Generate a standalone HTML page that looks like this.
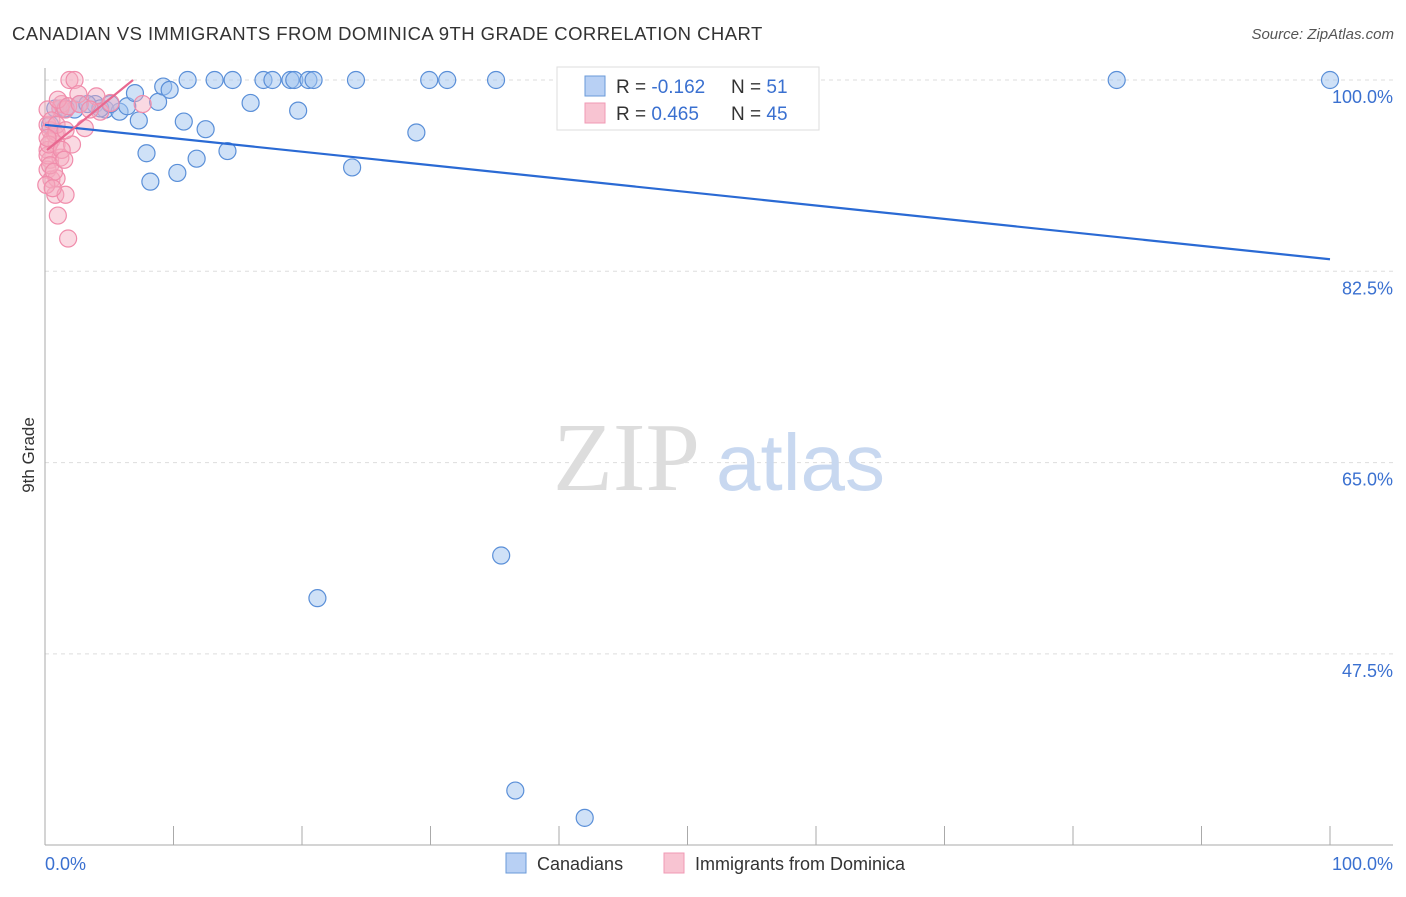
<!DOCTYPE html>
<html><head><meta charset="utf-8"><style>
body{margin:0;background:#fff;font-family:"Liberation Sans",sans-serif;}
</style></head><body>
<svg width="1406" height="892" viewBox="0 0 1406 892">
<text x="12" y="40" font-size="18.5" fill="#333" letter-spacing="0.45">CANADIAN VS IMMIGRANTS FROM DOMINICA 9TH GRADE CORRELATION CHART</text>
<text x="1394" y="39" font-size="15" fill="#555" font-style="italic" text-anchor="end">Source: ZipAtlas.com</text>
<g id="grid"></g>
<g id="axes"></g>
<text x="553" y="490" font-size="98" fill="#ddd" font-family="Liberation Serif">ZIP</text>
<text x="716" y="490" font-size="80" fill="#c8d8f0">atlas</text>
<text transform="translate(34,455) rotate(-90)" font-size="17" fill="#333" text-anchor="middle">9th Grade</text>
<g id="pts"></g>
<g id="lines"></g>
<g>
<rect x="557" y="67" width="262" height="63" fill="#fff" stroke="#ddd"/>
<rect x="585" y="76" width="20" height="20" fill="#b8d0f4" stroke="#6a9ad8"/>
<rect x="585" y="103" width="20" height="20" fill="#f8c4d2" stroke="#f09ab4"/>
<text x="616" y="93" font-size="19" fill="#333">R = <tspan fill="#3a70d0">-0.162</tspan></text>
<text x="731" y="93" font-size="19" fill="#333">N = <tspan fill="#3a70d0">51</tspan></text>
<text x="616" y="120" font-size="19" fill="#333">R = <tspan fill="#3a70d0"> 0.465</tspan></text>
<text x="731" y="120" font-size="19" fill="#333">N = <tspan fill="#3a70d0">45</tspan></text>
</g>
<g>
<rect x="506" y="853" width="20" height="20" fill="#b8d0f4" stroke="#6a9ad8"/>
<text x="537" y="870" font-size="18" fill="#333">Canadians</text>
<rect x="664" y="853" width="20" height="20" fill="#f8c4d2" stroke="#f09ab4"/>
<text x="695" y="870" font-size="18" fill="#333">Immigrants from Dominica</text>
</g>
</svg>
<script>
const yTicks=[100,82.5,65,47.5];
const yTickLabels=["100.0%","82.5%","65.0%","47.5%"];
const blueX=[0.8,2.3,2.7,3.9,4.7,5.8,6.4,7.0,7.3,7.9,8.2,8.8,9.2,9.7,10.3,10.8,11.1,11.8,12.5,13.2,14.2,14.6,16.0,17.0,17.7,19.1,19.4,19.7,20.5,20.9,21.2,23.9,24.2,28.9,29.9,31.3,35.1,35.5,36.6,40.9,42.0,47.7,56.4,83.4,100,1.2,1.6,4.3,5.1,0.4,3.3];
const blueY=[97.4,97.3,97.8,97.8,97.3,97.1,97.6,98.8,96.3,93.3,90.7,98.0,99.4,99.1,91.5,96.2,100,92.8,95.5,100,93.5,100,97.9,100,100,100,100,97.2,100,100,52.6,92.0,100,95.2,100,100,100,56.5,35.0,100,32.5,100,100,100,100,97.4,97.4,97.4,97.8,95.9,97.8];
const pinkX=[0.2,0.4,0.5,0.2,0.4,0.2,0.5,0.8,1.0,1.8,1.6,0.9,1.2,0.9,0.8,1.9,2.3,2.1,3.1,1.2,1.3,1.6,2.6,4.0,4.3,5.1,7.6,0.2,0.5,0.9,0.2,0.3,1.3,0.4,0.7,1.0,1.8,2.7,3.5,0.1,0.6,1.5,0.9,0.2,1.6];
const pinkY=[95.9,95.4,94.5,93.6,92.7,91.8,90.9,89.5,87.6,85.5,89.5,91.0,92.9,94.1,95.0,100,100,94.1,95.6,97.4,97.8,97.3,98.7,98.5,97.1,97.9,97.8,97.3,96.3,95.2,93.1,94.1,93.6,92.2,91.6,98.2,97.6,97.8,97.3,90.4,90.1,92.7,95.9,94.7,95.4];
const blueTrend=[[0,95.9],[100,83.6]];
const pinkTrend=[[0.15,93.6],[6.85,100]];
const NS="http://www.w3.org/2000/svg";
const sx=v=>45+v*12.85;
const sy=v=>80+(100-v)*191.3/17.5;
function mk(t,a,p){const e=document.createElementNS(NS,t);for(const k in a)e.setAttribute(k,a[k]);p.appendChild(e);return e;}
const grid=document.getElementById('grid'),axes=document.getElementById('axes'),pts=document.getElementById('pts'),lines=document.getElementById('lines');
yTicks.forEach((t,i)=>{
 const l=mk('line',{x1:45,x2:1393,y1:sy(t),y2:sy(t),stroke:'#ddd','stroke-dasharray':'4,4'},grid);
 
 
 const tx=mk('text',{x:1393,y:sy(t)+23,'font-size':18,fill:'#3a70d0','text-anchor':'end'},axes);
 tx.textContent=yTickLabels[i];
 
 
});
mk('line',{x1:45,x2:45,y1:68,y2:845,stroke:'#aaa'},axes);
mk('line',{x1:45,x2:1393,y1:845,y2:845,stroke:'#aaa'},axes);
for(let i=0;i<=10;i++){const x=sx(i*10);mk('line',{x1:x,x2:x,y1:826,y2:845,stroke:'#aaa'},axes);}
const x0=mk('text',{x:45,y:870,'font-size':18,fill:'#3a70d0'},axes);x0.textContent='0.0%';


const x1=mk('text',{x:1393,y:870,'font-size':18,fill:'#3a70d0','text-anchor':'end'},axes);x1.textContent='100.0%';


blueX.forEach((v,i)=>{const c=mk('circle',{cx:sx(v),cy:sy(blueY[i]),r:8.5,fill:'rgba(160,195,240,0.5)',stroke:'#5a8fd8','stroke-width':1.2},pts);
 
 });
pinkX.forEach((v,i)=>{const c=mk('circle',{cx:sx(v),cy:sy(pinkY[i]),r:8.5,fill:'rgba(245,170,190,0.45)',stroke:'#f08cab','stroke-width':1.2},pts);
 
 });
const bl=mk('line',{x1:sx(blueTrend[0][0]),y1:sy(blueTrend[0][1]),x2:sx(blueTrend[1][0]),y2:sy(blueTrend[1][1]),stroke:'#2a6ad4','stroke-width':2.2},lines);


const pl=mk('line',{x1:sx(pinkTrend[0][0]),y1:sy(pinkTrend[0][1]),x2:sx(pinkTrend[1][0]),y2:sy(pinkTrend[1][1]),stroke:'#e86890','stroke-width':2.2},lines);


</script>
</body></html>
